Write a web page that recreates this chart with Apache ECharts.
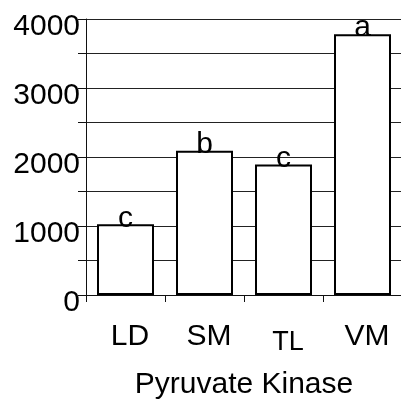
<!DOCTYPE html>
<html><head><meta charset="utf-8">
<script src="https://cdn.jsdelivr.net/npm/echarts@6/dist/echarts.min.js"></script>
<style>html,body{margin:0;padding:0;background:#fff;overflow:hidden}#c{width:401px;height:401px}</style>
</head><body><div id="c"></div>
<script>
var categories = ['LD', 'SM', 'TL', 'VM'];
var values = [1025, 2090, 1890, 3780];
var letters = ['c', 'b', 'c', 'a'];
var yTicks = [0, 1000, 2000, 3000, 4000];
var axisName = 'Pyruvate Kinase';

var FONT = '"Liberation Sans", Arial, sans-serif';
var chart = echarts.init(document.getElementById('c'), null, {renderer: 'canvas'});
chart.setOption({
  animation: false,
  backgroundColor: '#fff',
  grid: {left: 86, right: -1, top: 19, bottom: 106, containLabel: false, outerBoundsMode: 'none'},
  xAxis: {
    type: 'category',
    data: categories,
    boundaryGap: true,
    axisLine: {show: true, lineStyle: {color: '#111', width: 1}},
    axisTick: {show: true, interval: 0, length: 7, lineStyle: {color: '#111', width: 1}},
    axisLabel: {
      interval: 0, margin: 27, color: '#000', fontFamily: FONT, fontSize: 30,
      formatter: function (v) { return v === 'TL' ? '{s|' + v + '}' : '{n|' + v + '}'; },
      rich: {
        n: {fontSize: 30, fontFamily: FONT, color: '#000', padding: [0, 0, 0, 9]},
        s: {fontSize: 27, fontFamily: FONT, color: '#000', padding: [7, 0, 0, 9]}
      }
    },
    name: axisName,
    nameLocation: 'middle',
    nameGap: 75,
    nameMoveOverlap: false,
    nameTextStyle: {color: '#000', fontFamily: FONT, fontSize: 30}
  },
  yAxis: {
    type: 'value',
    min: 0, max: 4000, interval: 500,
    axisLine: {show: true, lineStyle: {color: '#111', width: 1}},
    axisTick: {show: true, length: 8, lineStyle: {color: '#111', width: 1}},
    splitLine: {show: true, lineStyle: {color: '#222', width: 1}},
    axisLabel: {
      margin: 6, color: '#000', fontFamily: FONT, fontSize: 30,
      formatter: function (v) { return yTicks.indexOf(v) >= 0 ? '{n|' + v + '}' : ''; },
      rich: {n: {fontSize: 30, fontFamily: FONT, color: '#000', padding: [16, 0, 0, 0]}}
    }
  },
  series: [{
    type: 'bar',
    data: values,
    barWidth: 57,
    itemStyle: {color: '#fff', borderColor: '#000', borderWidth: 2},
    label: {
      show: true, position: 'top', distance: -9, color: '#000',
      fontFamily: FONT, fontSize: 30,
      formatter: function (p) { return letters[p.dataIndex]; }
    }
  }]
});
</script></body></html>
